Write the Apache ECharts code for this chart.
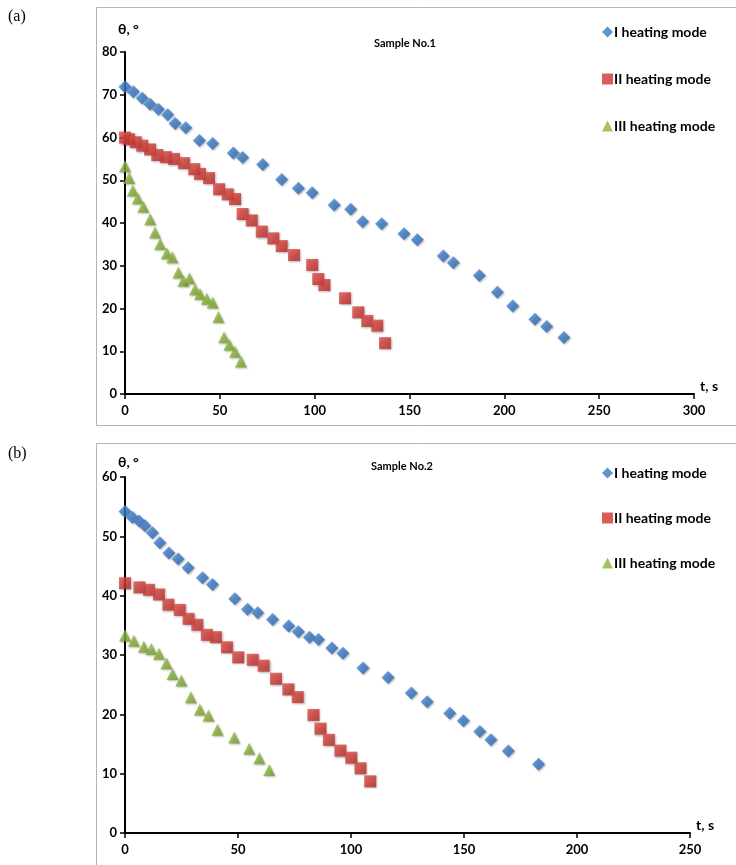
<!DOCTYPE html>
<html>
<head>
<meta charset="utf-8">
<script src="https://cdn.jsdelivr.net/npm/echarts@6/dist/echarts.min.js"></script>
<style>
html,body{margin:0;padding:0;background:#fff;}
#c{width:736px;height:865px;}
</style>
</head>
<body>
<div id="c"></div>
<script>
// ---- Data: Sample No.1 (a) ----
const tA1 = [0,4.4,9.1,13.2,17.6,22.5,26.4,32.0,39.2,46.2,57.1,62.0,72.6,82.6,91.4,98.7,110.3,119.0,125.3,135.3,147.1,154.1,167.8,173.1,186.8,196.3,204.4,216.1,222.3,231.4];
const thA1 = [71.9,70.7,69.2,67.8,66.6,65.3,63.3,62.3,59.3,58.6,56.4,55.3,53.7,50.2,48.1,47.1,44.2,43.2,40.3,39.8,37.5,36.1,32.3,30.7,27.7,23.8,20.6,17.5,15.8,13.2];
const tA2 = [0,2.1,5.6,9.1,13.2,17.0,21.5,25.8,31.1,36.5,39.5,44.3,49.6,54.1,58.0,62.0,66.8,72.1,78.2,82.6,89.1,98.7,101.9,105.1,116.0,123.0,127.7,133.0,137.1];
const thA2 = [60.0,59.6,58.9,58.1,57.2,55.9,55.4,55.0,54.0,52.6,51.5,50.5,47.9,46.7,45.6,42.1,40.6,38.0,36.4,34.6,32.5,30.2,26.9,25.5,22.4,19.1,17.1,16.0,11.9];
const tA3 = [0,2.1,4.1,6.7,9.6,13.2,15.8,18.5,22.0,24.9,28.1,30.7,33.9,36.9,39.5,43.1,46.2,49.2,52.2,55.0,58.0,61.1];
const thA3 = [53.3,50.5,47.6,45.8,43.8,40.9,37.8,35.1,32.9,32.0,28.4,26.5,27.1,24.5,23.4,22.3,21.4,18.0,13.3,11.5,9.9,7.6];

// ---- Data: Sample No.2 (b) ----
const tB1 = [0,3.2,6.2,8.8,12.1,15.4,19.4,23.5,27.9,34.3,38.7,48.6,54.2,58.7,65.3,72.4,76.7,81.6,85.6,91.5,96.4,105.3,116.4,126.7,133.7,143.7,149.7,157.0,161.9,169.6,183.0];
const thB1 = [54.2,53.2,52.6,51.8,50.6,48.9,47.2,46.2,44.7,43.0,41.9,39.5,37.7,37.1,36.0,34.9,33.9,33.0,32.6,31.2,30.3,27.8,26.2,23.6,22.1,20.2,18.9,17.1,15.7,13.8,11.6];
const tB2 = [0,6.4,10.6,15.0,19.2,24.2,28.1,32.0,36.2,40.2,45.1,50.1,56.5,61.3,66.8,72.3,76.4,83.4,86.5,90.2,95.3,100.1,104.2,108.5];
const thB2 = [42.1,41.4,41.0,40.2,38.5,37.6,36.1,35.1,33.4,33.0,31.3,29.6,29.2,28.2,26.0,24.2,22.9,19.9,17.6,15.7,13.9,12.7,10.9,8.7];
const tB3 = [0,3.9,8.3,11.6,15.0,18.3,21.0,24.9,29.1,33.1,36.9,40.9,48.3,54.9,59.4,63.8];
const thB3 = [33.3,32.4,31.4,31.0,30.2,28.6,26.8,25.7,22.9,20.8,19.8,17.4,16.1,14.2,12.6,10.6];

const seriesNames = ['I heating mode','II heating mode','III heating mode'];
const titles = ['Sample No.1','Sample No.2'];
const panelLabels = ['(a)','(b)'];

const zip = (a,b) => a.map((v,i)=>[v,b[i]]);
const FONT = 'Lato, "Open Sans", sans-serif';

function grad(light, dark){
  return new echarts.graphic.LinearGradient(0,0,1,1,[{offset:0,color:light},{offset:1,color:dark}]);
}
const styles = [
  {symbol:'diamond', size:13, color: grad('#4f8fd8','#2763ad'), legend:'#3a78c6'},
  {symbol:'rect', size:12, color: grad('#e4524c','#b52521'), legend:'#d23530'},
  {symbol:'triangle', size:12, color: grad('#a0c94f','#719b28'), legend:'#8ab536'}
];

function mkSeries(name, data, idx, k){
  const s = styles[k];
  return {
    name, type:'scatter', xAxisIndex:idx, yAxisIndex:idx,
    symbol:s.symbol, symbolSize:s.size, data,
    itemStyle:{color:s.color, shadowBlur:2, shadowColor:'rgba(0,0,0,0.35)', shadowOffsetX:1, shadowOffsetY:1},
    emphasis:{disabled:true}
  };
}

const axisLabel = {color:'#000', fontFamily:FONT, fontWeight:'bold', fontSize:13, margin:10};
function xAx(idx, max){
  return {
    type:'value', gridIndex:idx, min:0, max:max, interval:50,
    name:'t, s', nameLocation:'end', nameGap:6,
    nameTextStyle:{color:'#000', fontFamily:FONT, fontWeight:'bold', fontSize:14, verticalAlign:'bottom', padding:[0,0,1,0]},
    axisLine:{show:true, onZero:false, lineStyle:{color:'#000', width:2}},
    axisTick:{show:true, length:5, lineStyle:{color:'#000', width:1.5}},
    splitLine:{show:false}, axisLabel
  };
}
function yAx(idx, max, gap){
  return {
    type:'value', gridIndex:idx, min:0, max:max, interval:10,
    name:'θ, °', nameLocation:'end', nameGap:gap,
    nameTextStyle:{color:'#000', fontFamily:FONT, fontWeight:'bold', fontSize:14, align:'left', padding:[0,0,0,-7]},
    axisLine:{show:true, onZero:false, lineStyle:{color:'#000', width:2}},
    axisTick:{show:true, length:5, lineStyle:{color:'#000', width:1.5}},
    splitLine:{show:false}, axisLabel:Object.assign({}, axisLabel, {margin:8})
  };
}
function legendData(){
  return seriesNames.map((n,k)=>({name:n, icon: styles[k].symbol, itemStyle:{color:styles[k].legend, shadowBlur:0}}));
}

const chart = echarts.init(document.getElementById('c'), null, {renderer:'canvas'});
chart.setOption({
  backgroundColor:'#fff',
  animation:false,
  title:[
    {text:titles[0], left:400, top:33, textAlign:'center', textStyle:{fontFamily:FONT, fontSize:11, fontWeight:'bold', color:'#000'}},
    {text:titles[1], left:397, top:456, textAlign:'center', textStyle:{fontFamily:FONT, fontSize:11, fontWeight:'bold', color:'#000'}}
  ],
  legend:[
    {orient:'vertical', left:597, top:20, itemGap:33, itemWidth:11, itemHeight:11,
     textStyle:{fontFamily:FONT, fontSize:14, fontWeight:'bold', color:'#000', padding:[0,0,0,-4]},
     data:legendData(), selectedMode:false},
    {orient:'vertical', left:597, top:461, itemGap:31, itemWidth:11, itemHeight:11,
     textStyle:{fontFamily:FONT, fontSize:14, fontWeight:'bold', color:'#000', padding:[0,0,0,-4]},
     data:legendData(), selectedMode:false}
  ],
  grid:[
    {left:125, right:42, top:52, height:342},
    {left:125, right:46, top:477, height:356}
  ],
  xAxis:[xAx(0,300), xAx(1,250)],
  yAxis:[yAx(0,80,16), yAx(1,60,8)],
  graphic:[
    {type:'rect', shape:{x:96.5, y:7.5, width:650, height:418}, style:{fill:'none', stroke:'#b5b5b5', lineWidth:1}, silent:true, z:-1},
    {type:'rect', shape:{x:96.5, y:443.5, width:650, height:430}, style:{fill:'none', stroke:'#b5b5b5', lineWidth:1}, silent:true, z:-1},
    {type:'text', left:8, top:9, style:{text:panelLabels[0], fontFamily:'"Liberation Serif", serif', fontSize:16, fill:'#000'}},
    {type:'text', left:8, top:446, style:{text:panelLabels[1], fontFamily:'"Liberation Serif", serif', fontSize:16, fill:'#000'}}
  ],
  series:[
    mkSeries(seriesNames[0], zip(tA1,thA1), 0, 0),
    mkSeries(seriesNames[1], zip(tA2,thA2), 0, 1),
    mkSeries(seriesNames[2], zip(tA3,thA3), 0, 2),
    mkSeries(seriesNames[0], zip(tB1,thB1), 1, 0),
    mkSeries(seriesNames[1], zip(tB2,thB2), 1, 1),
    mkSeries(seriesNames[2], zip(tB3,thB3), 1, 2)
  ]
});
</script>
</body>
</html>
